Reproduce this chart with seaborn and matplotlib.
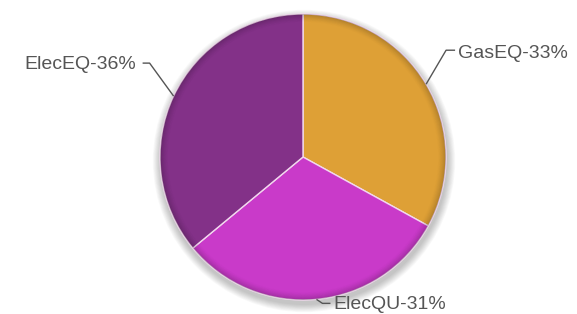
import numpy as np
import matplotlib
matplotlib.use("Agg")
import matplotlib.pyplot as plt
from matplotlib.patches import Wedge, Circle
import seaborn as sns

# ---- data ----
categories = ["GasEQ", "ElecQU", "ElecEQ"]
shares = [33, 31, 36]
colors = ["#DEA036", "#C93AC9", "#833188"]

sns.set_theme(style="white")
plt.rcParams["font.family"] = ["Liberation Sans", "DejaVu Sans"]

W, H = 577, 314
fig = plt.figure(figsize=(W / 100, H / 100), dpi=100)
ax = fig.add_axes([0, 0, 1, 1])

cx, cy, r = 303, 157, 143

# soft shadow below the pie
for k in range(10):
    ax.add_patch(Circle((cx + 1, cy - 4), r + 1 + k * 0.8, color="#000000",
                        alpha=0.025, lw=0, zorder=0))

wedges, _ = ax.pie(shares, colors=colors, startangle=90, counterclock=False,
                   center=(cx, cy), radius=r, frame=True,
                   wedgeprops=dict(edgecolor="#F2D8EE", linewidth=1.0))
for w in wedges:
    w.set_zorder(2)
ax.set_xlim(0, W)
ax.set_ylim(0, H)
ax.set_aspect("equal")
ax.axis("off")

# bevel: darker rim near the edge
n = 8
for k in range(n):
    ax.add_patch(Wedge((cx, cy), r - k * 1.0, 0, 360, width=1.0,
                       color="black", alpha=0.2 * (1 - k / n) ** 1.5,
                       lw=0, zorder=3))

# labels with leader lines
# (elbow dx, elbow dy, horizontal run, text gap, text dy, alignment)
layout = {
    "GasEQ": (20, 34, 9, 3, -3, "left"),
    "ElecQU": (6, -4, 8, 3, -1, "left"),
    "ElecEQ": (-24, 33, -7, -6, -1, "right"),
}
for w, cat, val in zip(wedges, categories, shares):
    ang = np.deg2rad((w.theta1 + w.theta2) / 2)
    ex, ey = cx + r * np.cos(ang), cy + r * np.sin(ang)
    dx, dy, run, gap, tdy, ha = layout[cat]
    bx, by = ex + dx, ey + dy
    hx = bx + run
    ax.plot([ex, bx, hx], [ey, by, by], color="#555555", lw=1.0, zorder=4,
            solid_capstyle="butt")
    ax.text(hx + gap, by + tdy, f"{cat}-{val}%", ha=ha, va="center",
            fontsize=14, color="#555555", zorder=5)

fig.savefig("out.png", dpi=100)
